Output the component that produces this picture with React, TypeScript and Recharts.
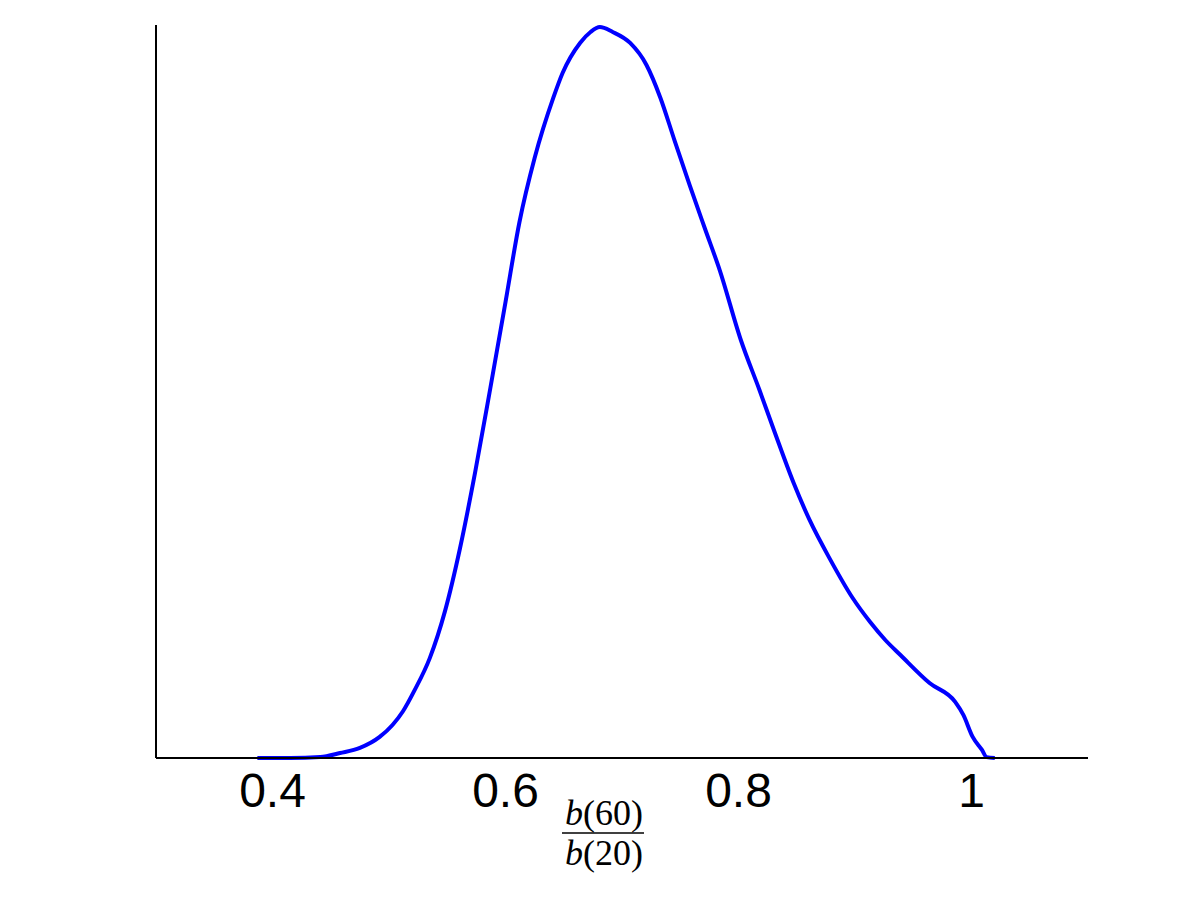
import React from "react";
import { LineChart, Line, XAxis, YAxis } from "recharts";

// ratio b(60)/b(20)
const ratio = [
  0.387, 0.415, 0.441, 0.458, 0.475, 0.492, 0.503, 0.512, 0.522, 0.535, 0.548,
  0.561, 0.574, 0.587, 0.6, 0.612, 0.625, 0.641, 0.649, 0.664, 0.673, 0.681,
  0.692, 0.707, 0.721, 0.733, 0.745, 0.758, 0.771, 0.784, 0.802, 0.818, 0.831,
  0.847, 0.861, 0.879, 0.898, 0.913, 0.926, 0.939, 0.964, 0.986, 0.993, 1.001,
  1.009, 1.013, 1.02,
];

// estimated density
const density = [
  0, 0, 0.005, 0.027, 0.055, 0.115, 0.18, 0.255, 0.37, 0.545, 0.8, 1.146,
  1.561, 2.019, 2.488, 2.925, 3.274, 3.602, 3.738, 3.902, 3.962, 3.989, 3.962,
  3.902, 3.782, 3.602, 3.372, 3.127, 2.892, 2.66, 2.281, 2.008, 1.779, 1.506,
  1.299, 1.08, 0.873, 0.742, 0.644, 0.562, 0.409, 0.306, 0.235, 0.115, 0.044,
  0.005, 0,
];

const xTicks = [0.4, 0.6, 0.8, 1];

const data = ratio.map((r, i) => ({ r, d: density[i] }));

const FracLabel = (props: any) => {
  const vb = props.viewBox || { x: 156, y: 758, width: 932 };
  const cx = vb.x + 448;
  const font = { fontFamily: "'Liberation Serif', 'DejaVu Serif', serif", fontSize: 36, fill: "#000" };
  return (
    <g>
      <text x={cx} y={825} textAnchor="middle" {...font}>
        <tspan fontStyle="italic">b</tspan>(60)
      </text>
      <line x1={cx - 42} x2={cx + 40} y1={833} y2={833} stroke="#000" strokeWidth={1.5} />
      <text x={cx} y={865} textAnchor="middle" {...font}>
        <tspan fontStyle="italic">b</tspan>(20)
      </text>
    </g>
  );
};

export default function App() {
  return (
    <div style={{ position: "absolute", left: 0, top: 0, background: "#fff" }}>
      <LineChart
        width={1201}
        height={901}
        data={data}
        margin={{ top: 25, right: 113, left: 155, bottom: 43 }}
      >
        <XAxis
          dataKey="r"
          type="number"
          domain={[0.3, 1.1]}
          ticks={xTicks}
          allowDataOverflow
          height={100}
          tickLine={false}
          tickSize={0}
          tickMargin={15}
          axisLine={{ stroke: "#000", strokeWidth: 2 }}
          tick={{ fill: "#000", fontSize: 48, fontFamily: "'Liberation Sans', Arial, sans-serif" }}
          label={<FracLabel />}
        />
        <YAxis
          type="number"
          domain={[0, 4]}
          width={1}
          tick={false}
          tickLine={false}
          axisLine={{ stroke: "#000", strokeWidth: 2 }}
        />
        <Line
          dataKey="d"
          type="monotone"
          stroke="#0000ff"
          strokeWidth={4}
          dot={false}
          isAnimationActive={false}
        />
      </LineChart>
    </div>
  );
}
